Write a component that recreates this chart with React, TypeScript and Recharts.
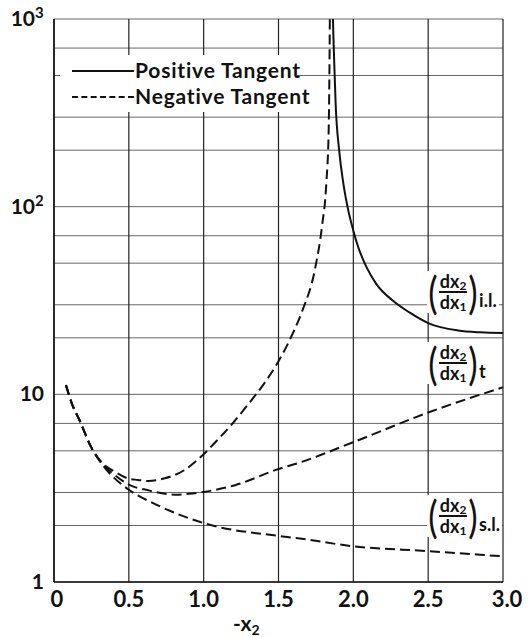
import React from 'react';
import { LineChart, Line, XAxis, YAxis, CartesianGrid } from 'recharts';

// axis values
const xTicks = [0, 0.5, 1, 1.5, 2, 2.5, 3];
const yGrid = [
  1, 2, 3, 4, 5, 6, 7, 8, 9,
  10, 20, 30, 40, 50, 60, 70, 80, 90,
  100, 200, 300, 400, 500, 600, 700, 800, 900, 1000,
];
const yLabels = [1, 10, 100, 1000];

// (dx2/dx1) i.l. - positive tangent (solid)
const ilX = [1.864, 1.867, 1.872, 1.882, 1.905, 1.934, 1.967, 2.0, 2.033, 2.088, 2.153, 2.263, 2.372, 2.504, 2.7, 2.85, 3.0];
const ilY = [1000, 800, 600, 350, 200, 132, 95, 74.5, 60.8, 47.6, 38.8, 31.6, 27.4, 23.9, 21.9, 21.4, 21.2];

// negative tangent branch rising to the asymptote (dashed)
const upperX = [0.08, 0.12, 0.17, 0.25, 0.33, 0.4, 0.5, 0.56, 0.63, 0.74, 0.87, 1.0, 1.1, 1.2, 1.3, 1.4, 1.5, 1.6, 1.66, 1.745, 1.79, 1.82, 1.835, 1.84, 1.843];
const upperY = [11.2, 8.9, 7.3, 5.2, 4.25, 3.9, 3.55, 3.5, 3.45, 3.57, 3.94, 4.8, 5.8, 7.1, 8.9, 11.3, 15.0, 21.5, 28, 47, 78, 135, 250, 500, 1000];

// (dx2/dx1) t (dashed)
const tX = [0.08, 0.12, 0.17, 0.25, 0.33, 0.4, 0.5, 0.63, 0.81, 0.9, 1.0, 1.21, 1.5, 1.63, 2.0, 2.5, 3.0];
const tY = [11.2, 8.9, 7.3, 5.2, 4.2, 3.75, 3.3, 3.08, 2.92, 2.95, 3.02, 3.28, 4.0, 4.3, 5.56, 8.0, 10.9];

// (dx2/dx1) s.l. (dashed)
const slX = [0.08, 0.12, 0.17, 0.25, 0.33, 0.4, 0.5, 0.69, 1.0, 1.5, 1.63, 2.0, 2.5, 3.0];
const slY = [11.2, 8.9, 7.3, 5.2, 4.15, 3.6, 3.1, 2.57, 2.06, 1.76, 1.71, 1.55, 1.46, 1.37];

const toData = (xs: number[], ys: number[]) => xs.map((x, i) => ({ x, y: ys[i] }));

const FONT = 'Lato, "DejaVu Sans", sans-serif';
const INK = '#111';

const YTick = (props: any) => {
  const { y, payload } = props;
  const v = payload.value;
  if (!yLabels.includes(v)) return <g />;
  const exp = Math.round(Math.log10(v));
  if (exp < 2) {
    return (
      <text x={44} y={y} dy={7} textAnchor="end" fontSize={21} fontFamily={FONT} fontWeight={700} fill={INK}>
        {v}
      </text>
    );
  }
  return (
    <text x={35} y={y} dy={7} textAnchor="end" fontSize={21} fontFamily={FONT} fontWeight={700} fill={INK}>
      10
      <tspan x={35} dy={-8} textAnchor="start" fontSize={15}>{exp}</tspan>
    </text>
  );
};

const XTick = (props: any) => {
  const { x, payload } = props;
  const v = payload.value;
  return (
    <text x={x + (v === 0 ? 3 : v === 3 ? 4 : 0)} y={607} textAnchor="middle" fontSize={22} fontFamily={FONT} fontWeight={700} fill={INK}>
      {v === 0 ? '0' : v.toFixed(1)}
    </text>
  );
};

const Ratio = ({ left, top, sub }: { left: number; top: number; sub: string }) => (
  <div
    style={{
      position: 'absolute', left, top, display: 'flex', alignItems: 'center', whiteSpace: 'nowrap',
      background: '#fff', fontFamily: FONT, fontWeight: 700, color: INK, paddingRight: 2,
    }}
  >
    <span style={{ fontSize: 44, fontWeight: 400, lineHeight: '42px', display: 'inline-block', transform: 'scaleX(0.8)' }}>(</span>
    <span style={{ display: 'inline-flex', flexDirection: 'column', alignItems: 'center', fontSize: 18, lineHeight: '17px' }}>
      <span style={{ padding: '0 1px 1px' }}>
        dx<sub style={{ fontSize: 12, lineHeight: 0, verticalAlign: '-0.2em' }}>2</sub>
      </span>
      <span style={{ borderTop: `2px solid ${INK}`, padding: '1px 1px 0' }}>
        dx<sub style={{ fontSize: 12, lineHeight: 0, verticalAlign: '-0.2em' }}>1</sub>
      </span>
    </span>
    <span style={{ fontSize: 44, fontWeight: 400, lineHeight: '42px', display: 'inline-block', transform: 'scaleX(0.8)' }}>)</span>
    <span style={{ alignSelf: 'flex-end', fontSize: 18, marginBottom: 2 }}>{sub}</span>
  </div>
);

export default function App() {
  return (
    <div style={{ position: 'absolute', left: 0, top: 0, width: 528, height: 637, background: '#fff' }}>
      <LineChart width={528} height={637} margin={{ top: 19, right: 25, left: 0, bottom: 25 }}>
        <CartesianGrid vertical={false} stroke="#666" strokeWidth={1} />
        <CartesianGrid horizontal={false} stroke="#222" strokeWidth={1.2} />
        <XAxis
          type="number"
          dataKey="x"
          domain={[0, 3]}
          ticks={xTicks}
          allowDataOverflow
          height={30}
          tick={<XTick />}
          tickLine={false}
          axisLine={{ stroke: INK, strokeWidth: 1.5 }}
        />
        <YAxis
          scale="log"
          domain={[1, 1000]}
          ticks={yGrid}
          allowDataOverflow
          width={54}
          tick={<YTick />}
          tickLine={false}
          axisLine={{ stroke: INK, strokeWidth: 1.5 }}
        />
        <Line data={toData(upperX, upperY)} dataKey="y" type="monotone" stroke={INK} strokeWidth={2} strokeDasharray="10 5" dot={false} isAnimationActive={false} />
        <Line data={toData(tX, tY)} dataKey="y" type="monotone" stroke={INK} strokeWidth={2} strokeDasharray="10 5" dot={false} isAnimationActive={false} />
        <Line data={toData(slX, slY)} dataKey="y" type="monotone" stroke={INK} strokeWidth={2} strokeDasharray="10 5" dot={false} isAnimationActive={false} />
        <Line data={toData(ilX, ilY)} dataKey="y" type="monotone" stroke={INK} strokeWidth={2} dot={false} isAnimationActive={false} />
      </LineChart>

      {/* legend */}
      <div style={{ position: 'absolute', left: 60, top: 55, width: 237, height: 57, background: '#fff', fontFamily: FONT, fontWeight: 700, fontSize: 21, letterSpacing: 0.8, color: INK, whiteSpace: 'nowrap' }}>
        <div style={{ position: 'absolute', left: 12, top: 15, width: 62, borderTop: `2px solid ${INK}` }} />
        <div style={{ position: 'absolute', left: 75, top: 1, lineHeight: '28px' }}>Positive Tangent</div>
        <div style={{ position: 'absolute', left: 12, top: 41, width: 62, borderTop: `2px dashed ${INK}` }} />
        <div style={{ position: 'absolute', left: 75, top: 27, lineHeight: '28px' }}>Negative Tangent</div>
      </div>

      <Ratio left={427} top={271} sub="i.l." />
      <Ratio left={427} top={342} sub="t" />
      <Ratio left={427} top={495} sub="s.l." />

      <div style={{ position: 'absolute', left: 233, top: 610, fontFamily: FONT, fontWeight: 700, fontSize: 21, color: INK, whiteSpace: 'nowrap' }}>
        -x<sub style={{ fontSize: 14, lineHeight: 0, verticalAlign: '-0.25em' }}>2</sub>
      </div>
    </div>
  );
}
